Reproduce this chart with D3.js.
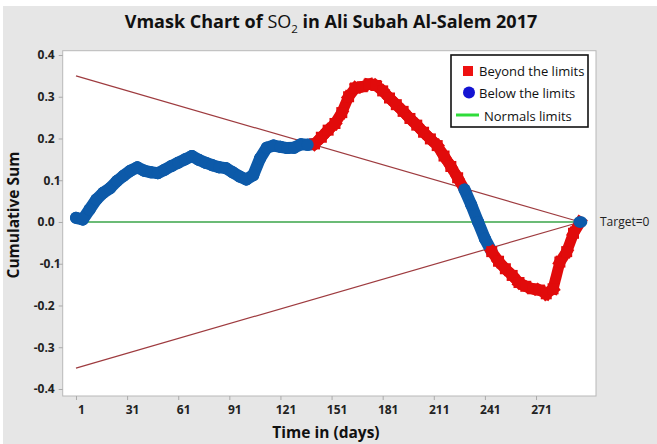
<!DOCTYPE html>
<html>
<head>
<meta charset="utf-8">
<script src="https://cdn.jsdelivr.net/npm/d3@7"></script>
<style>
  body { margin: 0; background: #fff; }
  text { font-family: "Open Sans", sans-serif; }
</style>
</head>
<body>
<div id="chart"></div>
<script>
// day index of every plotted point (one every 4 days)
var days = d3.range(1, 298, 4);
// cumulative sum
var cusum = [
  0.010, 0.006, 0.030, 0.054, 0.070, 0.081, 0.098, 0.111, 0.123, 0.131,
  0.123, 0.119, 0.117, 0.125, 0.134, 0.142, 0.150, 0.158, 0.149, 0.142,
  0.136, 0.131, 0.129, 0.119, 0.109, 0.102, 0.112, 0.152, 0.178, 0.183,
  0.180, 0.177, 0.178, 0.186, 0.185, 0.187, 0.203, 0.220, 0.236, 0.262,
  0.300, 0.321, 0.324, 0.330, 0.327, 0.314, 0.297, 0.281, 0.265, 0.248,
  0.232, 0.215, 0.199, 0.183, 0.158, 0.133, 0.106, 0.078, 0.041, 0.000,
  -0.040, -0.071, -0.094, -0.112, -0.128, -0.145, -0.154, -0.160, -0.163, -0.172,
  -0.160, -0.096, -0.071, -0.027, 0.000
];
var xTicks = [1, 31, 61, 91, 121, 151, 181, 211, 241, 271];
var yTicks = [0.4, 0.3, 0.2, 0.1, 0.0, -0.1, -0.2, -0.3, -0.4];
var maskHalf = 0.35;   // V-mask opening at day 1
var target = 0;
var legendLabels = ['Beyond the limits', 'Below the limits', 'Normals limits'];

var width = 657, height = 444;
var red = '#e10b0b', blue = '#0d5aa9', maskColor = '#9e3b3f', green = '#3aa548';

var svg = d3.select('#chart').append('svg')
  .attr('width', width).attr('height', height)
  .attr('viewBox', '0 0 ' + width + ' ' + height);

svg.append('rect').attr('x', 3).attr('y', 6)
  .attr('width', width - 3).attr('height', height - 6)
  .attr('fill', '#e6e6e6');

var plot = { left: 62.7, right: 596, top: 50.7, bottom: 396 };

var x = d3.scaleLinear().domain([-6.8, 306.2]).range([plot.left, plot.right]);
var y = d3.scaleLinear().domain([-0.4168, 0.4103]).range([plot.bottom, plot.top]);

svg.append('rect')
  .attr('x', plot.left).attr('y', plot.top)
  .attr('width', plot.right - plot.left).attr('height', plot.bottom - plot.top)
  .attr('fill', '#fff').attr('stroke', '#b8b8b8').attr('stroke-width', 1);

// axes
var yAxis = svg.append('g')
  .attr('transform', 'translate(' + plot.left + ',0)')
  .call(d3.axisLeft(y).tickValues(yTicks).tickSize(4).tickPadding(4)
    .tickFormat(function (d) { return d3.format('.1f')(d).replace('−', '-'); }));
yAxis.select('.domain').remove();
yAxis.selectAll('line').attr('stroke', '#aaa');
yAxis.selectAll('text')
  .attr('font-size', 12).attr('font-weight', 700).attr('fill', '#222')
  .attr('dx', function (d) { return Math.abs(d) === 0.1 ? 6 : 0; });

var xAxis = svg.append('g')
  .attr('transform', 'translate(0,' + plot.bottom + ')')
  .call(d3.axisBottom(x).tickValues(xTicks).tickSize(4).tickPadding(5));
xAxis.select('.domain').remove();
xAxis.selectAll('line').attr('stroke', '#aaa');
xAxis.selectAll('text')
  .attr('font-size', 12).attr('font-weight', 700).attr('fill', '#222')
  .attr('dx', 5);

// V-mask
var lastDay = days[days.length - 1];
var upper = function (d) { return target + maskHalf * (lastDay - d) / (lastDay - days[0]); };
var lower = function (d) { return target - maskHalf * (lastDay - d) / (lastDay - days[0]); };

[upper, lower].forEach(function (f) {
  svg.append('line')
    .attr('x1', x(days[0])).attr('y1', y(f(days[0])))
    .attr('x2', x(lastDay)).attr('y2', y(f(lastDay)))
    .attr('stroke', maskColor).attr('stroke-width', 1.2);
});
svg.append('line')
  .attr('x1', x(days[0])).attr('y1', y(target))
  .attr('x2', x(lastDay)).attr('y2', y(target))
  .attr('stroke', green).attr('stroke-width', 1.4);

// points
var pts = days.map(function (d, i) {
  var v = cusum[i];
  return { day: d, v: v, out: v > upper(d) + 1e-9 || v < lower(d) - 1e-9 };
});

var seg = svg.append('g');
for (var i = 0; i < pts.length - 1; i++) {
  var a = pts[i], b = pts[i + 1];
  var out = a.out && b.out ? true : (!a.out && !b.out ? false : a.out);
  seg.append('line')
    .attr('x1', x(a.day)).attr('y1', y(a.v))
    .attr('x2', x(b.day)).attr('y2', y(b.v))
    .attr('stroke', out ? red : blue)
    .attr('stroke-width', out ? 11 : 12)
    .attr('stroke-linecap', out ? 'square' : 'round');
}

svg.append('g').selectAll('rect')
  .data(pts.filter(function (p) { return p.out; }))
  .enter().append('rect')
  .attr('x', function (p) { return x(p.day) - 5.5; })
  .attr('y', function (p) { return y(p.v) - 5.5; })
  .attr('width', 11).attr('height', 11).attr('fill', red);

svg.append('g').selectAll('ellipse')
  .data(pts.filter(function (p) { return !p.out; }))
  .enter().append('ellipse')
  .attr('cx', function (p) { return x(p.day); })
  .attr('cy', function (p) { return y(p.v); })
  .attr('rx', function (p, i, n) { return i === n.length - 1 ? 7 : 6; })
  .attr('ry', 6).attr('fill', blue);

// target label
svg.append('text')
  .attr('x', 600).attr('y', y(target) + 4.5)
  .attr('font-size', 12).attr('fill', '#222')
  .text('Target=' + target);

// legend
var lg = svg.append('g').attr('transform', 'translate(451,55)');
lg.append('rect').attr('width', 137).attr('height', 72)
  .attr('fill', '#fff').attr('stroke', '#111').attr('stroke-width', 1.6);
lg.append('rect').attr('x', 12).attr('y', 11).attr('width', 10).attr('height', 10).attr('fill', '#ee1111');
lg.append('circle').attr('cx', 18).attr('cy', 37.5).attr('r', 6).attr('fill', '#1414d2');
lg.append('line').attr('x1', 5).attr('x2', 28).attr('y1', 60).attr('y2', 60)
  .attr('stroke', '#2fdc3a').attr('stroke-width', 3);
lg.selectAll('text.lab').data(legendLabels).enter().append('text')
  .attr('class', 'lab')
  .attr('x', function (d, i) { return i === 2 ? 33 : 28; })
  .attr('y', function (d, i) { return 20.5 + i * 22.5; })
  .attr('font-family', '"Liberation Sans", Arial, sans-serif')
  .attr('font-size', 13).attr('fill', '#111')
  .text(function (d) { return d; });

// titles
var title = svg.append('text')
  .attr('x', 331).attr('y', 28)
  .attr('text-anchor', 'middle')
  .attr('font-size', 18).attr('font-weight', 700).attr('fill', '#111');
title.append('tspan').text('Vmask Chart of ');
title.append('tspan').attr('font-weight', 400).text('SO');
title.append('tspan').attr('font-weight', 400).attr('font-size', 11.5).attr('dy', 5).text('2');
title.append('tspan').attr('dy', -5).text(' in Ali Subah Al-Salem 2017');

svg.append('text')
  .attr('x', 326).attr('y', 438)
  .attr('text-anchor', 'middle')
  .attr('font-size', 15.5).attr('font-weight', 700).attr('fill', '#111')
  .text('Time in (days)');

svg.append('text')
  .attr('transform', 'translate(19,215) rotate(-90)')
  .attr('text-anchor', 'middle')
  .attr('font-size', 15.5).attr('font-weight', 700).attr('fill', '#111')
  .text('Cumulative Sum');
</script>
</body>
</html>
